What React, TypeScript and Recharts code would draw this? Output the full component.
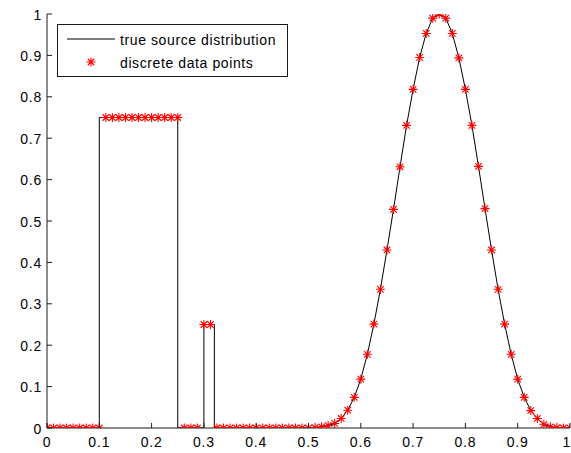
import { ComposedChart, Line, Scatter, XAxis, YAxis, Legend } from 'recharts';

// samples are taken every 0.0125 on [0, 1]
const sampleStep = 0.0125;
const sampleValues = [
    0, 0, 0, 0, 0, 0, 0, 0, 0,
    0.75, 0.75, 0.75, 0.75, 0.75, 0.75, 0.75, 0.75, 0.75, 0.75, 0.75, 0.75,
    0, 0, 0,
    0.25, 0.25,
    0, 0, 0, 0, 0, 0, 0, 0, 0, 0, 0, 0, 0, 0, 0,
    0.001, 0.003, 0.006, 0.011, 0.023, 0.043, 0.074, 0.118, 0.178, 0.251,
    0.335, 0.43, 0.528, 0.631, 0.731, 0.818, 0.895, 0.953, 0.99, 1.0,
    0.99, 0.953, 0.894, 0.818, 0.731, 0.632, 0.53, 0.43, 0.335, 0.251,
    0.178, 0.118, 0.074, 0.042, 0.023, 0.009, 0.003, 0.001, 0, 0,
];

// corners of the two rectangular pulses of the source
const edgeX = [0, 0.1, 0.1, 0.25, 0.25, 0.3, 0.3, 0.32, 0.32];
const edgeY = [0, 0, 0.75, 0.75, 0, 0, 0.25, 0.25, 0];

const xTicks = [0, 0.1, 0.2, 0.3, 0.4, 0.5, 0.6, 0.7, 0.8, 0.9, 1];
const yTicks = [0, 0.1, 0.2, 0.3, 0.4, 0.5, 0.6, 0.7, 0.8, 0.9, 1];

const curveName = 'true source distribution';
const samplesName = 'discrete data points';

const samplePoints = sampleValues.map((y, i) => ({ x: i * sampleStep, y }));
const curvePoints = edgeX
    .map((x, i) => ({ x, y: edgeY[i] }))
    .concat(samplePoints.filter((p) => p.x >= 0.5));

const FONT = "'Liberation Sans', Arial, sans-serif";
const AXIS = '#1a1a1a';
const CHART_W = 571;

const starPath = (cx: number, cy: number, r = 4.5) => {
    const d = r * 0.72;
    return `M${cx - r},${cy}L${cx + r},${cy}M${cx},${cy - r}L${cx},${cy + r}` +
        `M${cx - d},${cy - d}L${cx + d},${cy + d}M${cx - d},${cy + d}L${cx + d},${cy - d}`;
};

const StarShape = (props: any) => {
    const { cx, cy } = props;
    if (cx == null || cy == null) return null;
    return <path d={starPath(cx, cy)} stroke="#ff0000" strokeWidth={1.1} fill="none" />;
};

const XTick = ({ x, y, payload }: any) => {
    // the last label sits against the right edge, so keep it inside the svg
    const atEdge = x + 6 > CHART_W;
    return (
        <g>
            <line x1={x} x2={x} y1={y} y2={y - 5} stroke={AXIS} />
            <text
                x={atEdge ? CHART_W : x}
                y={y + 18.5}
                textAnchor={atEdge ? 'end' : 'middle'}
                fontSize={14}
                fill="#000"
                letterSpacing={0.8}
            >
                {String(payload.value)}
            </text>
        </g>
    );
};

const YTick = ({ x, y, payload }: any) => (
    <g>
        <line x1={x} x2={x + 5} y1={y} y2={y} stroke={AXIS} />
        <text x={x - 5} y={y + 5.5} textAnchor="end" fontSize={14} fill="#000" letterSpacing={0.8}>
            {String(payload.value)}
        </text>
    </g>
);

// legend rows: the solid curve first, then the star markers
const LegendBox = ({ payload }: any) => {
    const rows = [...(payload || [])].sort((a: any, b: any) =>
        (a.type === 'star' ? 1 : 0) - (b.type === 'star' ? 1 : 0));
    return (
        <svg width={232} height={54} style={{ display: 'block' }}>
            <rect x={0.5} y={0.5} width={230} height={52} fill="#fff" stroke={AXIS} />
            {rows.map((entry: any, i: number) => {
                const cy = 15 + i * 23;
                return (
                    <g key={entry.value}>
                        {entry.type === 'star' ? (
                            <path d={starPath(34, cy)} stroke="#ff0000" strokeWidth={1.1} fill="none" />
                        ) : (
                            <line x1={10} x2={58} y1={cy} y2={cy} stroke="#000" />
                        )}
                        <text x={63} y={cy + 5.5} fontSize={14} fontFamily={FONT} letterSpacing={0.6} fill="#000">
                            {entry.value}
                        </text>
                    </g>
                );
            })}
        </svg>
    );
};

export default function App() {
    return (
        <div style={{ position: 'absolute', left: 0, top: 0, background: '#fff' }}>
            <ComposedChart
                width={CHART_W}
                height={453}
                margin={{ top: 14, right: 1, bottom: 24, left: 46 }}
                style={{ fontFamily: FONT }}
            >
                <XAxis
                    type="number"
                    dataKey="x"
                    domain={[0, 1]}
                    ticks={xTicks}
                    height={1}
                    tickSize={0}
                    tickMargin={0}
                    tickLine={false}
                    tick={<XTick />}
                    axisLine={{ stroke: AXIS }}
                    allowDataOverflow
                    interval={0}
                />
                <YAxis
                    type="number"
                    dataKey="y"
                    domain={[0, 1]}
                    ticks={yTicks}
                    width={1}
                    tickSize={0}
                    tickMargin={0}
                    tickLine={false}
                    tick={<YTick />}
                    axisLine={{ stroke: AXIS }}
                    allowDataOverflow
                    interval={0}
                />
                <Legend
                    layout="vertical"
                    align="center"
                    verticalAlign="middle"
                    wrapperStyle={{ left: 57, top: 24, width: 232, height: 54 }}
                    content={<LegendBox />}
                />
                <Line
                    data={curvePoints}
                    dataKey="y"
                    name={curveName}
                    type="linear"
                    stroke="#000"
                    strokeWidth={1}
                    dot={false}
                    legendType="line"
                    isAnimationActive={false}
                />
                <Scatter
                    data={samplePoints}
                    dataKey="y"
                    name={samplesName}
                    legendType="star"
                    shape={<StarShape />}
                    isAnimationActive={false}
                />
            </ComposedChart>
        </div>
    );
}
